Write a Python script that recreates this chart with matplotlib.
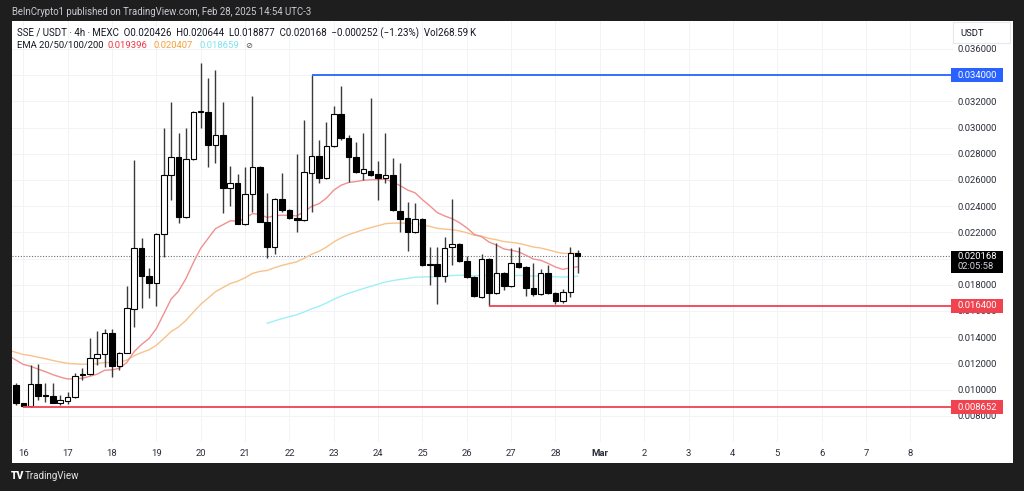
import numpy as np
import pandas as pd
import matplotlib
matplotlib.use("Agg")
import matplotlib.pyplot as plt
import matplotlib.dates as mdates
from matplotlib.patches import Rectangle

plt.rcParams['font.family'] = ['Roboto', 'DejaVu Sans']

W, H = 1024, 491

# SSE/USDT 4h candles, first one Feb 15 20:00, last one Feb 28 12:00
opens = [0.010351, 0.008977, 0.008748, 0.010427, 0.009587, 0.009511, 0.008977, 0.009130, 0.009435, 0.011115,
         0.011191, 0.012412, 0.012718, 0.014321, 0.011802, 0.012794, 0.016153, 0.020809, 0.018672, 0.018137,
         0.021878, 0.026382, 0.027756, 0.023176, 0.027603, 0.031191, 0.031191, 0.028672, 0.029435, 0.025389,
         0.025771, 0.022641, 0.024931, 0.026992, 0.022794, 0.020885, 0.024550, 0.023710, 0.023099, 0.022947,
         0.026534, 0.027832, 0.026153, 0.028595, 0.031038, 0.029206, 0.027756, 0.026534, 0.026687, 0.026458,
         0.026153, 0.026382, 0.023634, 0.023099, 0.022031, 0.023023, 0.019588, 0.019588, 0.018672, 0.020885,
         0.021115, 0.019817, 0.018595, 0.017069, 0.019969, 0.017374, 0.018901, 0.017908, 0.019664, 0.019359,
         0.017756, 0.017298, 0.018901, 0.017374, 0.016763, 0.017450, 0.020426]
highs = [0.010504, 0.008977, 0.011878, 0.011954, 0.010504, 0.010504, 0.009587, 0.009817, 0.011267, 0.011649,
         0.013939, 0.014473, 0.014626, 0.014626, 0.012870, 0.017908, 0.027527, 0.021572, 0.019282, 0.021954,
         0.029969, 0.031954, 0.029588, 0.029969, 0.031267, 0.034931, 0.033786, 0.034397, 0.031954, 0.027069,
         0.026458, 0.026992, 0.032412, 0.027069, 0.025008, 0.024626, 0.026534, 0.023786, 0.027985, 0.030580,
         0.034000, 0.029053, 0.030427, 0.031649, 0.033176, 0.029435, 0.028901, 0.029588, 0.032260, 0.027450,
         0.029588, 0.027679, 0.027298, 0.024321, 0.024244, 0.023099, 0.020885, 0.020885, 0.021649, 0.024550,
         0.021191, 0.020198, 0.018672, 0.020351, 0.020046, 0.021191, 0.018977, 0.020809, 0.020885, 0.019435,
         0.019664, 0.019206, 0.019511, 0.017450, 0.017679, 0.020885, 0.020644]
lows = [0.008824, 0.008652, 0.008671, 0.009206, 0.009053, 0.008977, 0.008824, 0.008900, 0.009359, 0.010733,
        0.011115, 0.011878, 0.011725, 0.010962, 0.011496, 0.012794, 0.014779, 0.016229, 0.016992, 0.016382,
        0.020122, 0.024473, 0.022718, 0.023099, 0.027527, 0.029969, 0.026992, 0.027298, 0.023481, 0.024015,
        0.022641, 0.022565, 0.023557, 0.022794, 0.020046, 0.020351, 0.023557, 0.023023, 0.022031, 0.022870,
        0.023557, 0.025771, 0.026076, 0.028519, 0.029053, 0.025847, 0.026534, 0.026000, 0.026305, 0.024473,
        0.025771, 0.023634, 0.022031, 0.020580, 0.021954, 0.019435, 0.017985, 0.016534, 0.018214, 0.019511,
        0.019740, 0.018519, 0.017069, 0.016992, 0.016400, 0.017298, 0.017603, 0.017832, 0.019282, 0.017145,
        0.017145, 0.017221, 0.017298, 0.016534, 0.016611, 0.017069, 0.018877]
closes = [0.008977, 0.008748, 0.010427, 0.009511, 0.009511, 0.008977, 0.009206, 0.009435, 0.011038, 0.011191,
          0.012412, 0.012718, 0.014321, 0.011802, 0.012794, 0.016229, 0.020809, 0.018672, 0.018137, 0.021878,
          0.026382, 0.027756, 0.023176, 0.027603, 0.031191, 0.031267, 0.028672, 0.029435, 0.025389, 0.025771,
          0.022641, 0.024931, 0.026992, 0.022794, 0.020885, 0.024550, 0.023710, 0.023099, 0.022947, 0.026611,
          0.027832, 0.026153, 0.028595, 0.031038, 0.029206, 0.027756, 0.026611, 0.026840, 0.026382, 0.026153,
          0.026382, 0.023710, 0.023023, 0.022031, 0.023023, 0.019511, 0.019511, 0.018672, 0.020809, 0.021115,
          0.019817, 0.018595, 0.017145, 0.019969, 0.017374, 0.018901, 0.017908, 0.019664, 0.019359, 0.017756,
          0.017298, 0.018901, 0.017374, 0.016763, 0.017450, 0.020427, 0.020168]

# EMA values just before the visible window
ema20_start = 0.0126
ema50_start = 0.0130
ema100_start = 0.01506   # first EMA100 point, at candle index 34
ema100_first = 34

resistance = 0.034
support = 0.0164
low_support = 0.008652
last_price = 0.020168
countdown = "02:05:58"

price_ticks = [0.008, 0.010, 0.012, 0.014, 0.016, 0.018, 0.020, 0.022, 0.024,
               0.026, 0.028, 0.030, 0.032, 0.034, 0.036]
day_labels = ['16', '17', '18', '19', '20', '21', '22', '23', '24', '25', '26', '27', '28',
              'Mar', '2', '3', '4', '5', '6', '7', '8']

header1 = ("SSE / USDT \u00b7 4h \u00b7 MEXC  O0.020426  H0.020644  L0.018877  "
           "C0.020168  \u22120.000252 (\u22121.23%)  Vol268.59\u202fK")
ema_vals = ['0.019396', '0.020407', '0.018659']

#%% colours
TXT = '#131722'
C_UP, C_DN = 'white', 'black'
C_EMA = ['#f0908f', '#f8c28a', '#9ef0f7']
C_EMA_TXT = ['#f23645', '#f5a03a', '#7ee3f0']
C_BLUE = '#2962ff'
C_RED = '#f0424f'

o = np.array(opens); h = np.array(highs); l = np.array(lows); c = np.array(closes)
times = mdates.date2num(pd.date_range('2025-02-15 20:00', periods=len(closes), freq='4h'))
day_ticks = mdates.date2num(pd.date_range('2025-02-16', periods=len(day_labels), freq='D'))
day0 = day_ticks[0]
step = 4 / 24


def fx(x):
    return x / W


def fy(y):
    return 1 - y / H


fig = plt.figure(figsize=(W / 100, H / 100), dpi=100, facecolor='#1e1e1e')
fig.add_artist(Rectangle((fx(12), fy(463)), fx(1013) - fx(12), fy(21) - fy(463),
                         transform=fig.transFigure, facecolor='white', edgecolor='none', zorder=-1))

ylo, yhi = 0.006, 0.038137
ax = fig.add_axes([fx(12), fy(442), fx(953) - fx(12), fy(21) - fy(442)])
ax.set_facecolor('white')
xlo, xhi = day0 - 0.2548, day0 + 20.963
ax.set_xlim(xlo, xhi)
ax.set_ylim(ylo, yhi)
for s in ax.spines.values():
    s.set_visible(False)

ax.grid(True, color='#f2f3f5', lw=0.7)
ax.set_axisbelow(True)

# candles
up = c >= o
ax.vlines(times, l, h, color='#3a3a3a', lw=1.0, zorder=3)
body_bot = np.minimum(o, c)
body_h = np.maximum(np.abs(c - o), 0.00008)
ax.bar(times, body_h, bottom=body_bot, width=0.125, color=np.where(up, C_UP, C_DN),
       edgecolor='black', lw=0.8, zorder=4)

# EMAs
t_ext = np.r_[times[0] - step, times]
ema20 = pd.Series([ema20_start] + closes).ewm(alpha=2 / 21, adjust=False).mean()
ema50 = pd.Series([ema50_start] + closes).ewm(alpha=2 / 51, adjust=False).mean()
ema100 = pd.Series([ema100_start] + closes[ema100_first + 1:]).ewm(alpha=2 / 101, adjust=False).mean()
ax.plot(t_ext, ema50, color=C_EMA[1], lw=1.0, zorder=2)
ax.plot(t_ext, ema20, color=C_EMA[0], lw=1.0, zorder=2)
ax.plot(times[ema100_first:], ema100, color=C_EMA[2], lw=1.0, zorder=2)

# levels
i_res = int(np.argmin(np.abs(h - resistance)))
i_sup = int(np.argmin(np.abs(l - support)))
i_low = int(np.argmin(np.abs(l - low_support)))
ax.hlines(resistance, times[i_res], xhi, color=C_BLUE, lw=1.3, zorder=5)
ax.hlines(support, times[i_sup], xhi, color=C_RED, lw=1.3, zorder=5)
ax.hlines(low_support, times[i_low], xhi, color=C_RED, lw=1.3, zorder=5)
ax.axhline(last_price, color='#6a6d78', lw=0.8, ls=(0, (1, 1.5)), zorder=1)

# axes ticks (the 0.020000 label sits fully under the last-price box)
ax.yaxis.tick_right()
ax.set_yticks(price_ticks)
ax.set_yticklabels(['' if abs(v - last_price) < 0.0005 else '%.6f' % v for v in price_ticks])
ax.tick_params(axis='y', length=0, pad=3, labelsize=6.8, labelcolor='#2a2e39')
ax.set_xticks(day_ticks)
ax.set_xticklabels(day_labels)
ax.tick_params(axis='x', length=0, pad=5, labelsize=6.8, labelcolor='#2a2e39')
for lab in ax.get_xticklabels():
    if lab.get_text() == 'Mar':
        lab.set_fontweight('bold')

# price scale labels in boxes
ax2 = fig.add_axes([fx(940), fy(442), fx(1013) - fx(940), fy(21) - fy(442)], zorder=5)
ax2.set_xlim(940, 1013)
ax2.set_ylim(ylo, yhi)
ax2.axis('off')
ppx = (yhi - ylo) / 421.0
for val, col in [(resistance, C_BLUE), (support, C_RED), (low_support, C_RED)]:
    ax2.add_patch(Rectangle((951, val - 7 * ppx), 52, 14 * ppx, facecolor=col, edgecolor='none'))
    ax2.text(957, val, '%.6f' % val, color='white', fontsize=6.8, va='center', ha='left')
ax2.add_patch(Rectangle((951, last_price - 17 * ppx), 52, 22.6 * ppx, facecolor='black', edgecolor='none'))
ax2.text(957, last_price, '%.6f' % last_price, color='white', fontsize=6.8, va='center', ha='left')
ax2.text(957, last_price - 10.5 * ppx, countdown, color='#d1d4dc', fontsize=6.8, va='center', ha='left')

# USDT box
fig.add_artist(Rectangle((fx(953), fy(43)), fx(1010) - fx(953), fy(22) - fy(43), transform=fig.transFigure,
                         facecolor='white', edgecolor='#e6e8ee', lw=0.8, zorder=6))
fig.text(fx(960), fy(33), 'USDT', fontsize=6.8, color=TXT, va='center', ha='left', zorder=7)

# header texts
fig.text(fx(12), fy(12), 'BeInCrypto1 published on TradingView.com, Feb 28, 2025 14:54 UTC-3',
         fontsize=6.95, color='#c9cbd1', va='center', ha='left')
fig.text(fx(17), fy(33), header1, fontsize=7.0, color=TXT, va='center', ha='left')
fig.text(fx(17), fy(45), 'EMA 20/50/100/200', fontsize=6.8, color=TXT, va='center', ha='left')
for xp, val, col in zip([107, 153, 199], ema_vals, C_EMA_TXT):
    fig.text(fx(xp), fy(45), val, fontsize=6.8, color=col, va='center', ha='left')
fig.text(fx(245), fy(45), '\u2298', fontsize=6, color='#555', va='center', ha='left',
         family=['DejaVu Sans'])

# logo
fig.text(fx(11), fy(476), 'TV', fontsize=7.5, color='white', fontweight='heavy', va='center', ha='left')
fig.text(fx(25), fy(476), 'TradingView', fontsize=7, color='#e6e6e6', va='center', ha='left')

fig.savefig('out.png', dpi=100, facecolor=fig.get_facecolor())
